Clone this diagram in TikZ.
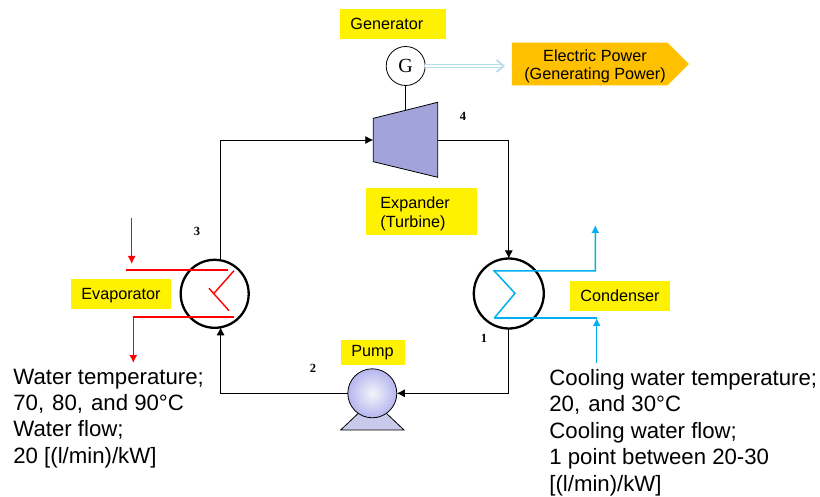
\documentclass[tikz,border=0pt]{standalone}
\usepackage{fontspec}
\setmainfont{Liberation Sans}
\newfontfamily\numfont{Liberation Serif}
\usetikzlibrary{arrows.meta, shapes.symbols}
\definecolor{heatblue}{HTML}{00B0F0}
\definecolor{paleblue}{HTML}{B7DEE8}
\definecolor{expander}{HTML}{A3A3DC}
\definecolor{pumpblue}{HTML}{C9C9EC}
\definecolor{powerorange}{HTML}{FFC000}
\tikzset{
  >={Latex[length=8pt,width=8pt]},
  yellowbox/.style={fill=yellow, anchor=west, align=left, inner xsep=10pt, inner ysep=0pt, minimum height=30pt, text height=11.6pt, text depth=0pt, font=\fontsize{16.2}{19}\selectfont},
  exchanger/.style={circle, draw, line width=2.3pt, minimum size=68pt, inner sep=0pt, outer sep=0pt},
  statenum/.style={font=\numfont\bfseries\fontsize{12.5}{13}\selectfont},
  condition/.style={anchor=north west, align=left, inner sep=0pt, font=\fontsize{22.2}{26.4}\selectfont},
  hotline/.style={red, line width=1.4pt},
  coldline/.style={heatblue, line width=1.5pt}
}
\begin{document}
\begin{tikzpicture}[x=1pt, y=-1pt, line width=0.8pt]
        \useasboundingbox (0,0) rectangle (820,497);
        \node [yellowbox, text width=86pt] (generatorlabel) at (340,24) {Generator};
        \node [yellowbox, text width=80pt] (evaporatorlabel) at (71,294) {Evaporator};
        \node [yellowbox, text width=80pt] (condenserlabel) at (570,296) {Condenser};
        \node [yellowbox, text width=44pt, minimum height=25pt, text height=, text depth=] (pumplabel) at (341,352.5) {Pump};
        \node [yellowbox, text width=83pt, inner xsep=14pt, minimum height=47pt, text height=, text depth=] (expanderlabel) at (366,211.5) {\rule{0pt}{17pt}Expander\\(Turbine)};

        \node [circle, draw, minimum size=39pt, inner sep=0pt, outer sep=0pt, font=\numfont\fontsize{20}{21}\selectfont] (gen) at (405.7,66) {G};
        \coordinate (turbinewest) at (373.3,140);
        \coordinate (turbineeast) at (437.7,140);
        \coordinate (turbinetop) at (405.7,110);
        \draw (gen.south) -- (turbinetop);
        \draw [fill=expander] (373.3,118.3) -- (437.7,102.3) -- (437.7,177.3) -- (373.3,161.7) -- cycle;
        \node [signal, signal to=east, signal pointer angle=90, fill=powerorange, minimum width=177pt, minimum height=42.7pt, inner sep=0pt] (power) at (589.8,64) {};
        \node [align=center, inner sep=0pt, font=\fontsize{16.2}{18.5}\selectfont] (powertext) at (595,66.5) {Electric Power\\(Generating Power)};
        \coordinate (powerport) at (505,66);
        \draw [paleblue, double, line width=1.3pt, double distance=1.4pt, -{Straight Barb[length=7pt,width=12pt,line width=1.8pt]}] (gen.east) -- (powerport);

        \node [exchanger] (evap) at (214.7,293.8) {};
        \node [exchanger, minimum size=70pt] (cond) at (508.8,293.5) {};

        \coordinate (pumpbaseL) at (340.7,430);
        \coordinate (pumpbaseR) at (404,430);
        \coordinate (pumpapex) at (372.3,400);
        \draw [fill=pumpblue] (pumpbaseL) -- (pumpbaseR) -- (pumpapex) -- cycle;
        \node [circle, draw, inner color=pumpblue!20, outer color=pumpblue!90!blue, minimum size=49pt, inner sep=0pt, outer sep=0pt] (pump) at (372.3,393.3) {};

        \draw [->] (evap.80) |- (turbinewest);
        \draw [->] (turbineeast) -| (cond.north);
        \draw [->] (cond.south) |- (pump.east);
        \draw [->] (pump.west) -| (evap.-80);

        \coordinate (hotin) at (131.7,218);
        \coordinate (hotinend) at (131.7,264);
        \coordinate (hottopL) at (126,270);
        \coordinate (hottopR) at (228.3,270);
        \coordinate (hotzigA) at (234,270.7);
        \coordinate (hotzigB) at (214,293.3);
        \coordinate (hotzigC) at (209,288.3);
        \coordinate (hotzigD) at (229,310.7);
        \coordinate (hotbotR) at (234,317);
        \coordinate (hotbotL) at (133.3,317);
        \coordinate (hotout) at (133.3,363);
        \draw [hotline, ->] (hotin) -- (hotinend);
        \draw [hotline] (hottopL) -- (hottopR);
        \draw [hotline] (hotzigA) -- (hotzigB);
        \draw [hotline] (hotzigC) -- (hotzigD);
        \draw [hotline, ->] (hotbotR) -- (hotbotL) -- (hotout);

        \coordinate (coldtopL) at (494.3,271);
        \coordinate (coldtopR) at (595.3,271);
        \coordinate (coldout) at (595.3,225);
        \coordinate (coldmid) at (515,293.3);
        \coordinate (coldbotL) at (494.3,318);
        \coordinate (coldbotR) at (596.7,318);
        \coordinate (coldin) at (596.7,363);
        \draw [coldline, ->] (coldbotL) -- (coldmid) -- (coldtopL) -- (coldtopR) -- (coldout);
        \draw [coldline] (coldbotL) -- (coldbotR);
        \draw [coldline, ->] (coldin) -- (coldbotR);

        \node [statenum] (state1) at (484,338) {1};
        \node [statenum] (state2) at (313,368) {2};
        \node [statenum] (state3) at (197,231) {3};
        \node [statenum] (state4) at (463,116) {4};

        \node [condition] (hotnote) at (13,368.5) {Water temperature;\\70,\kern8pt 80,\kern8pt and 90°C\\Water flow;\\20 [(l/min)/kW]};
        \node [condition] (coldnote) at (549,369) {Cooling water temperature;\\20,\kern8pt and 30°C\\Cooling water flow;\\1 point between 20-30\\{[}(l/min)/kW]};
      \end{tikzpicture}
\end{document}
